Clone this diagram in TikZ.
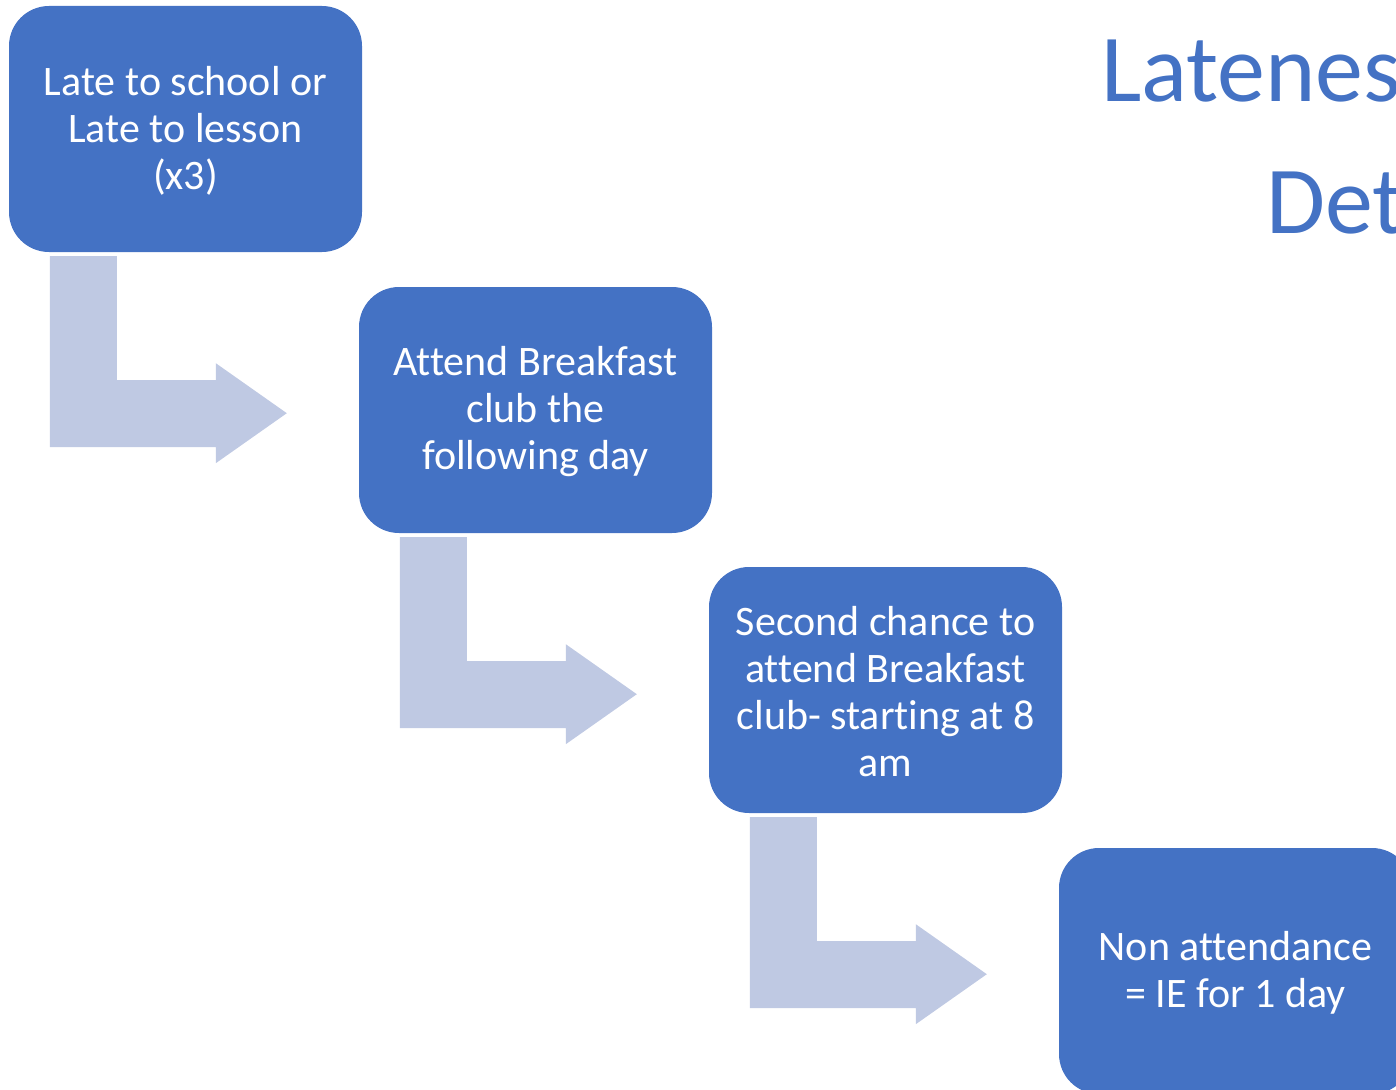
\documentclass[tikz,border=0pt]{standalone}
\usepackage{fontspec}
\setmainfont{Carlito}[Ligatures=NoCommon]
\usetikzlibrary{calc}
\definecolor{boxblue}{HTML}{4472C4}
\definecolor{arrowblue}{HTML}{BFC9E3}
\newcommand\bentarrow[1]{\fill[bent, shift={(#1.south west)}] (41,4) -- (108,4) -- (108,128) -- (207,128) -- (207,111) -- (278,161) -- (207,211) -- (207,195) -- (41,195) -- cycle;}
\begin{document}
\begin{tikzpicture}[x=1pt,y=-1pt,
  stepbox/.style={draw=none, fill=boxblue, rounded corners=40pt, minimum width=353pt, minimum height=246pt, inner sep=0pt},
  steptext/.style={inner sep=0pt, align=center, text=white, font=\fontsize{42}{47}\selectfont},
  bent/.style={fill=arrowblue, draw=none},
  titletext/.style={text=boxblue, font=\fontsize{96}{110}\selectfont, inner sep=0pt, anchor=base west}]
\useasboundingbox (0,0) rectangle (1396,1089);
\clip (0,0) rectangle (1396,1089);
\node[stepbox] (b1) at (185.5,129) {};
\node[stepbox] (b2) at (535.5,410) {};
\node[stepbox] (b3) at (885.5,690) {};
\node[stepbox] (b4) at (1235.5,971) {};
\node[steptext] (l1) at ($(b1.center)+(0,2)$) {Late to school or\\Late to lesson\\(x3)};
\node[steptext] (l2) at ($(b2.center)+(0,2)$) {Attend Breakfast\\club the\\following day};
\node[steptext] (l3) at ($(b3.center)+(0,2)$) {Second chance to\\attend Breakfast\\club- starting at 8\\am};
\node[steptext] (l4) at ($(b4.center)+(0,2)$) {Non attendance\\= IE for 1 day};
\bentarrow{b1}
\bentarrow{b2}
\bentarrow{b3}
\node[titletext] (t1) at (1101,102) {Lateness};
\node[titletext] (t2) at (1266,233) {Det};
\end{tikzpicture}
\end{document}
